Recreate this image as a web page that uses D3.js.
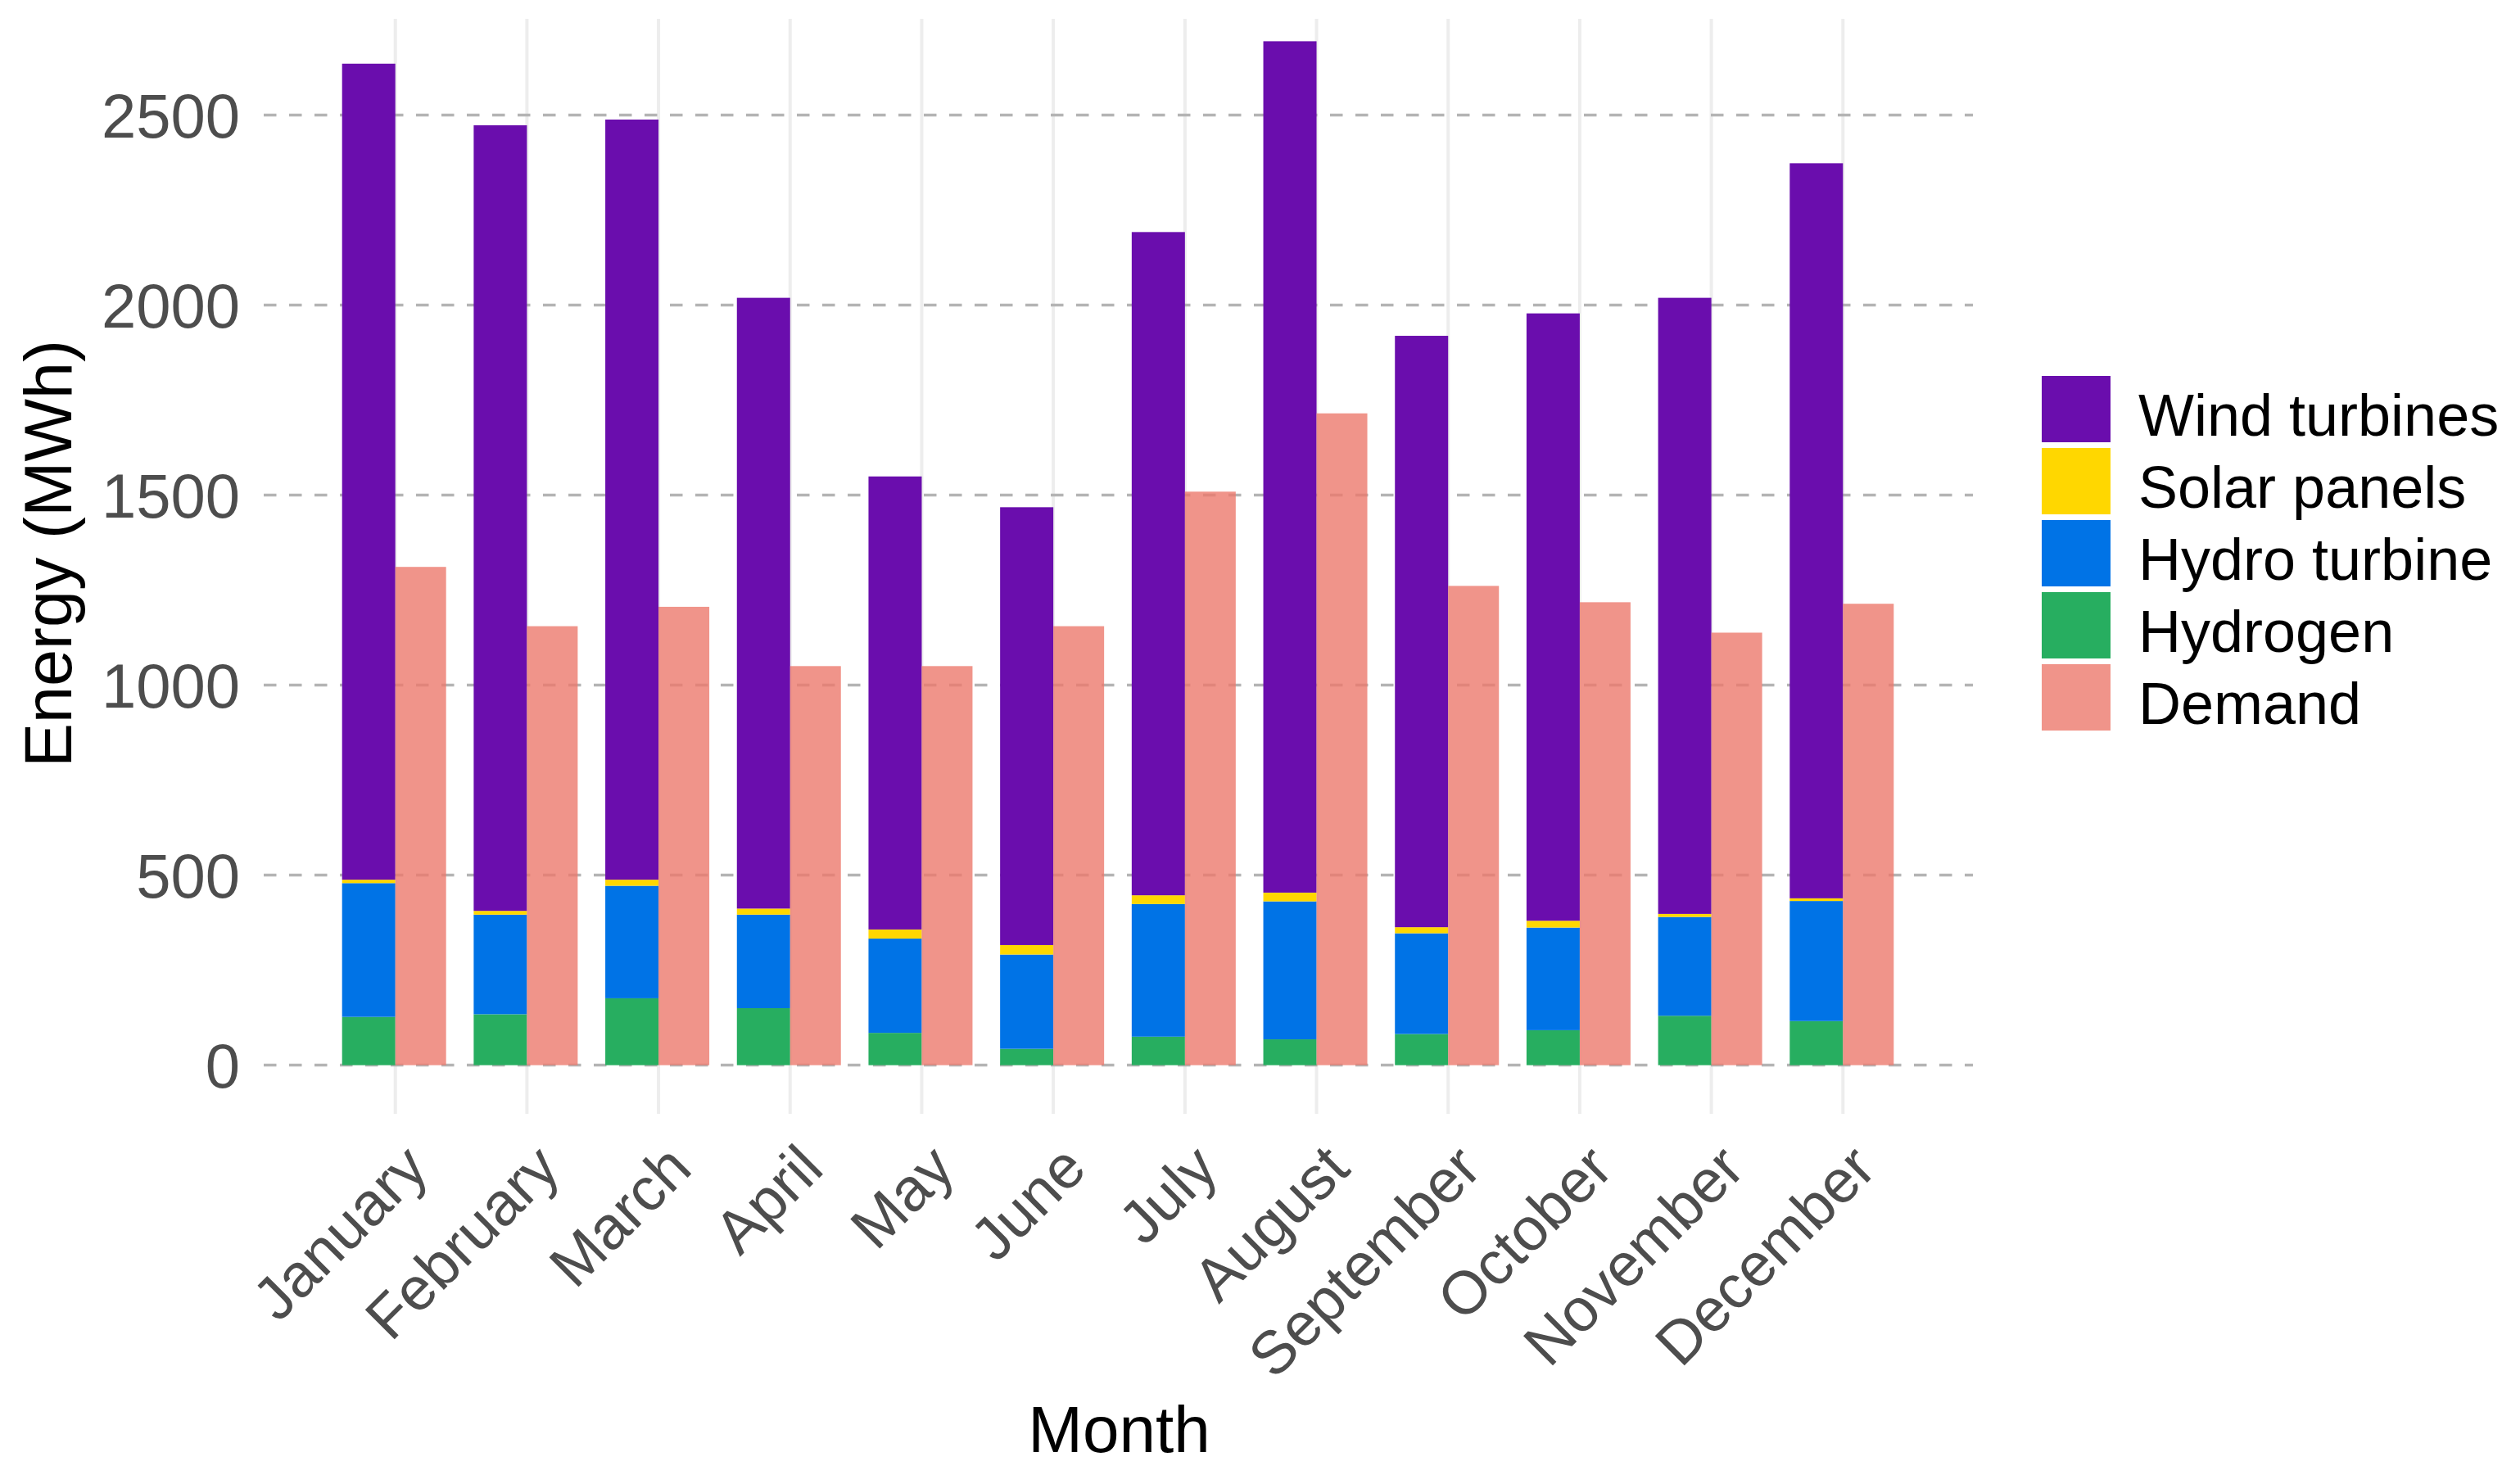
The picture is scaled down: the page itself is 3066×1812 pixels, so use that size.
<!DOCTYPE html>
<html>
<head>
<meta charset="utf-8">
<script src="https://cdn.jsdelivr.net/npm/d3@7"></script>
<style>
  body { margin: 0; background: #fff; }
  text { font-family: "Liberation Sans", Arial, sans-serif; }
</style>
</head>
<body>
<svg id="chart" width="3066" height="1812"></svg>
<script>
// chart data
var months = ["January", "February", "March", "April", "May", "June",
  "July", "August", "September", "October", "November", "December"];
var hydrogen = [127, 134, 176, 150, 85, 43, 75, 68, 82, 92, 130, 116];
var hydro = [352, 262, 296, 246, 248, 248, 349, 363, 265, 270, 260, 316];
var solar = [9, 10, 16, 16, 24, 25, 23, 23, 16, 18, 8, 7];
var wind = [2147, 2067, 2000, 1607, 1192, 1152, 1745, 2240, 1556, 1598, 1621, 1934];
var demand = [1311, 1155, 1206, 1050, 1050, 1155, 1509, 1715, 1261, 1218, 1138, 1214];
var yTicks = [0, 500, 1000, 1500, 2000, 2500];

var sources = ["Hydrogen", "Hydro turbine", "Solar panels", "Wind turbines"];
var legendItems = ["Wind turbines", "Solar panels", "Hydro turbine", "Hydrogen", "Demand"];
var colors = {
  "Wind turbines": "#6a0dad",
  "Solar panels": "#ffd700",
  "Hydro turbine": "#0073e6",
  "Hydrogen": "#27ae60",
  "Demand": "rgb(236,121,109)"
};

// build rows for d3.stack
var rows = months.map(function(m, i) {
  return {
    month: m,
    "Hydrogen": hydrogen[i],
    "Hydro turbine": hydro[i],
    "Solar panels": solar[i],
    "Wind turbines": wind[i],
    demand: demand[i]
  };
});

var svg = d3.select("#chart");

var panel = { left: 322, right: 2411, top: 23, bottom: 1360 };

var x = d3.scalePoint()
  .domain(months)
  .range([panel.left, panel.right])
  .padding(1);

var y = d3.scaleLinear()
  .domain([-128, 2753])
  .range([panel.bottom, panel.top]);

var stackW = 65, demandW = 62;

// vertical grid lines
svg.append("g")
  .selectAll("line")
  .data(months)
  .enter()
  .append("line")
  .attr("x1", d => x(d))
  .attr("x2", d => x(d))
  .attr("y1", panel.top)
  .attr("y2", panel.bottom)
  .attr("stroke", "#ededed")
  .attr("stroke-width", 4);

// horizontal dashed grid lines
svg.append("g")
  .selectAll("line")
  .data(yTicks)
  .enter()
  .append("line")
  .attr("x1", panel.left)
  .attr("x2", panel.right - 2)
  .attr("y1", d => y(d))
  .attr("y2", d => y(d))
  .attr("stroke", "#b4b4b4")
  .attr("stroke-width", 3.5)
  .attr("stroke-dasharray", "15.5,15.5");

// stacked generation bars
var series = d3.stack().keys(sources)(rows);

svg.append("g")
  .selectAll("g")
  .data(series)
  .enter()
  .append("g")
  .attr("fill", d => colors[d.key])
  .selectAll("rect")
  .data(d => d)
  .enter()
  .append("rect")
  .attr("x", d => x(d.data.month) - stackW)
  .attr("width", stackW)
  .attr("y", d => y(d[1]))
  .attr("height", d => y(d[0]) - y(d[1]));

// demand bars (semi transparent)
svg.append("g")
  .selectAll("rect")
  .data(rows)
  .enter()
  .append("rect")
  .attr("x", d => x(d.month))
  .attr("width", demandW)
  .attr("y", d => y(d.demand))
  .attr("height", d => y(0) - y(d.demand))
  .attr("fill", colors["Demand"])
  .attr("fill-opacity", 0.8);

// y axis labels
var yAxis = svg.append("g")
  .attr("transform", "translate(293,0)")
  .call(d3.axisLeft(y).tickValues(yTicks).tickFormat(d3.format("d")).tickSize(0).tickPadding(0));
yAxis.select(".domain").remove();
yAxis.selectAll("text")
  .attr("dy", "0.36em")
  .style("font-size", "76px")
  .style("font-family", "'Liberation Sans', Arial, sans-serif")
  .attr("fill", "#4d4d4d");

// x axis labels
var xAxis = svg.append("g")
  .call(d3.axisBottom(x).tickSize(0));
xAxis.select(".domain").remove();
xAxis.selectAll("text")
  .attr("x", 0)
  .attr("y", 0)
  .attr("dy", 0)
  .attr("text-anchor", "end")
  .attr("transform", "translate(43,1430) rotate(-45)")
  .style("font-size", "74px")
  .style("font-family", "'Liberation Sans', Arial, sans-serif")
  .attr("fill", "#4d4d4d");

// axis titles
svg.append("text")
  .attr("x", (panel.left + panel.right) / 2)
  .attr("y", 1773)
  .attr("text-anchor", "middle")
  .style("font-size", "80px")
  .attr("fill", "#000")
  .text("Month");

svg.append("text")
  .attr("transform", "translate(87,676) rotate(-90)")
  .attr("text-anchor", "middle")
  .style("font-size", "81px")
  .attr("fill", "#000")
  .text("Energy (MWh)");

// legend
var legend = svg.append("g")
  .attr("transform", "translate(2493,459)");

var items = legend.selectAll("g")
  .data(legendItems)
  .enter()
  .append("g")
  .attr("transform", (d, i) => `translate(0, ${i * 88})`);

items.append("rect")
  .attr("width", 84)
  .attr("height", 81)
  .attr("fill", d => colors[d])
  .attr("fill-opacity", d => d === "Demand" ? 0.8 : 1);

items.append("text")
  .attr("x", 118)
  .attr("y", 73)
  .style("font-size", "72px")
  .attr("fill", "#000")
  .text(d => d);
</script>
</body>
</html>
